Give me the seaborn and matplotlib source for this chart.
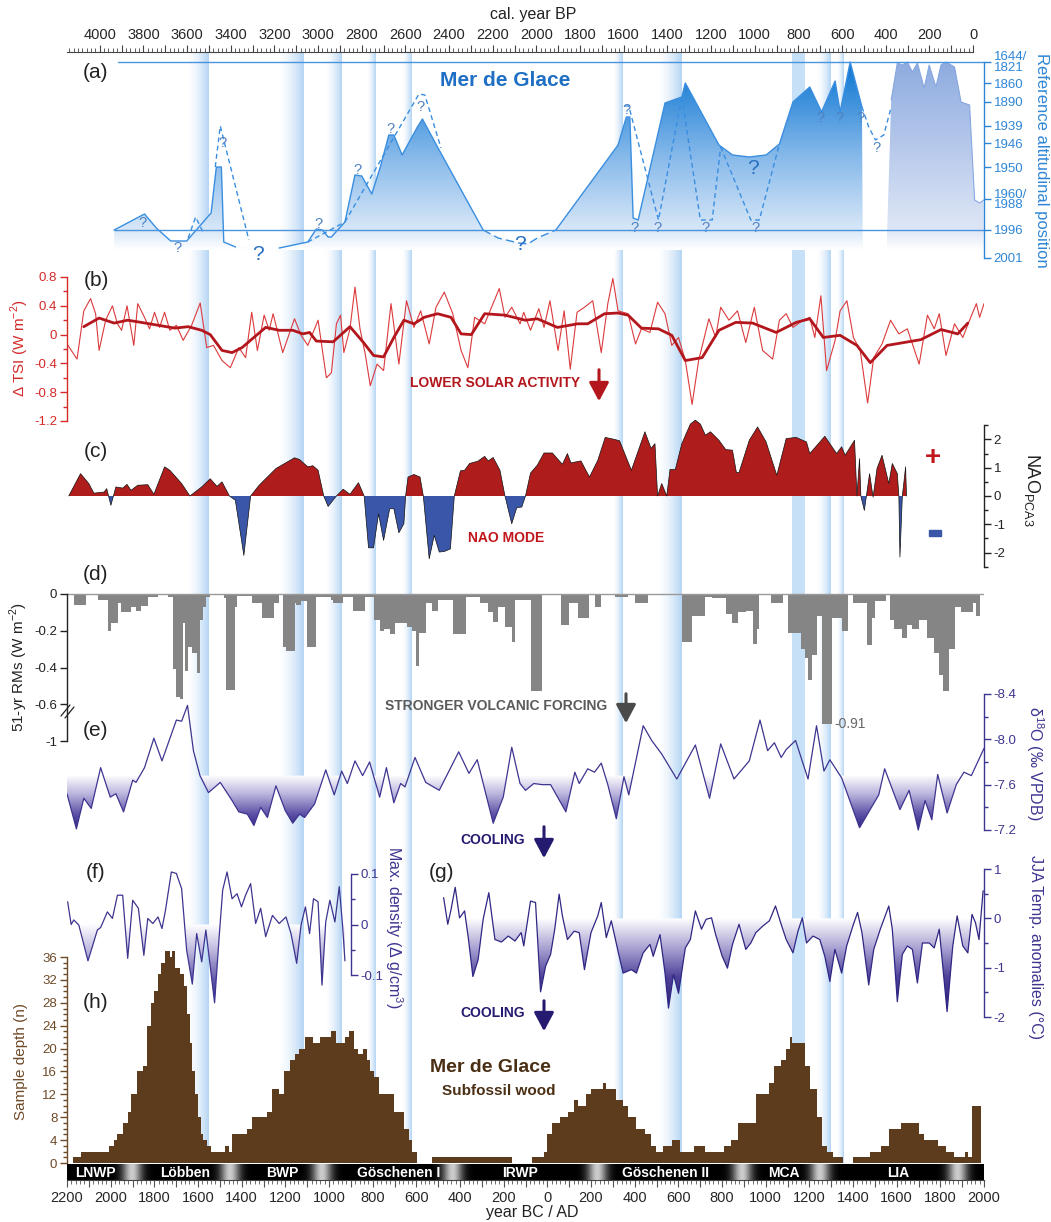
import numpy as np
import matplotlib
matplotlib.use("Agg")
import matplotlib.pyplot as plt
import seaborn as sns
from matplotlib.colors import LinearSegmentedColormap
from matplotlib.path import Path
from matplotlib.patches import PathPatch, Rectangle, FancyArrowPatch
from matplotlib.lines import Line2D

# ---------------- data ----------------
# cooling bands, year BC/AD
band_start = [-1650, -1235, -1020, -827, -667, 303, 500, 1121, 1236, 1327]
band_end = [-1550, -1116, -946, -786, -622, 348, 614, 1181, 1300, 1355]
band_fade = [True, True, True, True, True, True, True, False, True, True]

# (a) Mer de Glace glacier position, cal. BP vs relative altitude
a_seg1_bp = [3934, 3795, 3741, 3675, 3602, 3490, 3466, 3443, 3432, 3378]
a_seg1_alt = [28, 44, 30, 17, 17, 45, 91, 91, 16, 11]
a_seg2_bp = [3178, 3047, 3008, 2980, 2954, 2939, 2877, 2831, 2800, 2754, 2715, 2676,
             2653, 2615, 2545, 2522, 2453, 2244]
a_seg2_alt = [10, 16, 29, 28, 21, 21, 36, 83, 82, 64, 91, 123, 123, 103, 131, 139, 111, 28]
a_link_bp = [2244, 2175, 2082, 2039, 1996, 1911]
a_link_alt = [28, 20, 15, 14, 20, 28]
a_seg3_bp = [1911, 1626, 1588, 1572, 1557, 1534, 1411, 1334, 1318, 1164, 1102, 1025,
             948, 887, 825, 748, 694, 632, 609, 563, 509, 505]
a_seg3_alt = [28, 113, 141, 141, 40, 38, 155, 161, 175, 113, 103, 101,
              103, 114, 156, 171, 146, 177, 146, 196, 151, 8]
a_lia_bp = [394, 375, 347, 324, 301, 278, 255, 224, 201, 170, 147, 124, 85, 55, 16, -7, -30, -48]
a_lia_alt = [25, 158, 195, 193, 196, 186, 195, 170, 193, 171, 193, 196, 191, 156, 153, 58, 55, 58]
a_dash = [
    ([3595, 3561, 3525], [20, 41, 25]),
    ([3471, 3448, 3317], [91, 132, 18]),
    ([3047, 2877], [16, 36]),
    ([2877, 2538, 2511, 2437], [36, 164, 163, 110]),
    ([1596, 1577, 1441, 1334], [152, 152, 38, 161]),
    ([1334, 1249, 1195, 1156], [161, 38, 38, 111]),
    ([1156, 1018, 979, 887], [111, 38, 38, 114]),
    ([509, 478, 447, 409, 375], [151, 131, 118, 123, 151]),
]
q_bp = [3803, 3644, 3440, 3274, 2996, 2818, 2669, 2530, 2075, 1588, 1549, 1445, 1226, 998,
        1010, 697, 612, 517, 443]
q_alt = [35, 10, 115, 3, 34, 88, 129, 151, 13, 148, 30, 30, 30, 30, 90, 140, 140, 140, 110]
q_big = [0, 0, 0, 1, 0, 0, 0, 0, 1, 0, 0, 0, 0, 0, 1, 0, 0, 0, 0]
a_ticks = [196, 175, 156, 132, 115, 91, 59, 28, 0]
a_labels = ['1644/\n1821', '1860', '1890', '1939', '1946', '1950', '1960/\n1988', '1996', '2001']

# (b) TSI
tsi_year = [-2200, -2154, -2123, -2092, -2069, -2053, -2023, -1992, -1969, -1950,
            -1925, -1894, -1876, -1845, -1822, -1799, -1776, -1753, -1729, -1699,
            -1668, -1629, -1590, -1560, -1529, -1490, -1452, -1413, -1382, -1354,
            -1328, -1297, -1274, -1256, -1212, -1182, -1158, -1128, -1097, -1050,
            -1012, -989, -966, -947, -932, -904, -881, -858, -834, -811,
            -780, -750, -716, -680, -645, -611, -580, -541, -510, -472,
            -433, -395, -364, -333, -287, -253, -220, -194, -163, -125,
            -108, -77, -39, -15, 12, 49, 77, 105, 136, 170,
            208, 247, 277, 300, 324, 370, 404, 431, 470, 505,
            539, 570, 601, 632, 663, 693, 740, 771, 794, 832,
            871, 909, 948, 986, 1032, 1063, 1094, 1125, 1171, 1202,
            1225, 1253, 1279, 1318, 1341, 1372, 1402, 1433, 1467, 1495,
            1533, 1572, 1610, 1649, 1703, 1741, 1772, 1795, 1826, 1865,
            1903, 1934, 1965, 1980, 2000]
tsi_val = [-0.13, -0.34, 0.33, 0.50, 0.29, -0.22, 0.20, 0.40, 0.15, 0.06,
           0.40, -0.15, 0.43, 0.24, 0.08, 0.31, 0.10, 0.31, 0.06, 0.13,
           -0.08, 0.13, 0.44, -0.18, -0.15, -0.36, -0.46, -0.18, -0.32, 0.31,
           -0.22, 0.27, 0.06, 0.29, -0.25, 0.01, 0.22, -0.01, -0.15, 0.20,
           -0.60, -0.53, 0.15, 0.27, -0.25, 0.08, 0.66, 0.08, -0.27, -0.71,
           -0.41, -0.50, 0.43, -0.41, 0.47, 0.10, 0.33, -0.13, 0.38, 0.59,
           0.29, -0.22, -0.46, 0.24, 0.15, 0.40, 0.64, 0.24, 0.38, 0.15,
           0.31, 0.06, 0.36, 0.10, 0.47, -0.22, 0.33, -0.48, 0.31, 0.38,
           0.47, -0.25, 0.43, 0.78, 0.33, 0.29, -0.13, 0.08, 0.03, 0.45,
           0.29, -0.15, -0.04, -0.36, -0.97, -0.36, 0.22, -0.04, 0.38, 0.20,
           0.33, -0.11, 0.38, -0.22, -0.34, 0.20, 0.29, 0.10, 0.20, 0.24,
           -0.04, 0.54, -0.50, -0.08, 0.33, 0.47, -0.04, -0.22, -0.95, -0.32,
           -0.13, 0.20, 0.01, 0.08, -0.41, 0.27, 0.08, 0.29, -0.29, 0.15,
           -0.04, 0.20, 0.43, 0.24, 0.43]
tsi_smooth_year = [-2123, -2053, -1984, -1922, -1861, -1783, -1706, -1645, -1583, -1544,
                   -1490, -1444, -1398, -1352, -1290, -1228, -1166, -1120, -1089, -1058,
                   -981, -904, -842, -796, -750, -703, -657, -611, -564, -503,
                   -441, -395, -348, -287, -194, -101, -46, 46, 139, 185,
                   262, 324, 370, 431, 509, 570, 632, 709, 786, 863,
                   940, 1048, 1140, 1202, 1264, 1341, 1418, 1479, 1556, 1711,
                   1803, 1880, 1926]
tsi_smooth_val = [0.11, 0.23, 0.16, 0.20, 0.17, 0.13, 0.09, 0.11, 0.06, 0.00,
                  -0.22, -0.25, -0.18, -0.06, 0.10, 0.06, 0.06, 0.01, 0.03, -0.09,
                  -0.10, 0.11, -0.11, -0.29, -0.31, -0.04, 0.20, 0.15, 0.24, 0.29,
                  0.24, 0.01, 0.00, 0.29, 0.27, 0.20, 0.22, 0.10, 0.15, 0.15,
                  0.29, 0.30, 0.27, 0.09, 0.08, -0.01, -0.36, -0.32, 0.06, 0.17,
                  0.16, 0.03, 0.17, 0.22, -0.04, -0.01, -0.15, -0.39, -0.15, -0.07,
                  0.07, 0.01, 0.16]

# (c) NAO
nao_year = [-2192, -2138, -2100, -2077, -2030, -2018, -1999, -1976, -1945, -1925,
            -1907, -1876, -1830, -1802, -1753, -1729, -1675, -1637, -1583, -1544,
            -1513, -1490, -1456, -1429, -1390, -1359, -1320, -1243, -1158, -1135,
            -1097, -1074, -1050, -1024, -1004, -966, -935, -904, -865, -839,
            -819, -796, -773, -750, -722, -703, -680, -657, -649, -638,
            -611, -583, -568, -541, -518, -495, -472, -444, -426, -398,
            -379, -356, -318, -287, -271, -248, -217, -194, -163, -140,
            -117, -100, -77, -46, -15, 23, 69, 92, 108, 154,
            193, 231, 265, 308, 331, 385, 447, 475, 493, 505,
            524, 547, 562, 586, 616, 655, 678, 701, 724, 747,
            786, 817, 848, 866, 878, 925, 963, 1002, 1051, 1094,
            1140, 1187, 1202, 1271, 1325, 1348, 1364, 1407, 1418, 1430,
            1436, 1452, 1476, 1492, 1510, 1533, 1564, 1580, 1603, 1610,
            1615, 1626, 1641, 1645]
nao_val = [0.0, 0.79, 0.44, 0.10, 0.14, 0.26, -0.33, 0.32, 0.28, 0.41,
           0.20, 0.38, 0.40, 0.06, 1.03, 0.91, 0.44, 0.0, 0.32, 0.61,
           0.34, 0.50, 0.0, -0.15, -2.10, 0.0, 0.38, 0.97, 1.35, 1.29,
           1.03, 1.07, 0.91, 0.0, -0.37, 0.0, 0.24, 0.06, 0.47, 0.0,
           -1.83, -1.83, -0.63, -1.57, -0.45, -0.45, -1.30, -0.98, 0.0, 0.67,
           0.76, 0.67, 0.0, -2.22, -1.39, -1.98, -1.96, -1.87, 0.0, 0.89,
           0.91, 1.15, 1.23, 1.40, 1.24, 1.36, 0.91, 0.0, -0.98, -0.41,
           -0.39, 0.0, 0.81, 1.09, 1.52, 1.52, 1.12, 1.50, 1.17, 1.24,
           0.67, 1.26, 2.07, 2.00, 1.95, 0.91, 2.27, 1.68, 1.85, 0.0,
           0.44, 0.0, 0.94, 0.93, 1.85, 2.54, 2.68, 2.54, 2.15, 2.27,
           1.97, 1.64, 1.62, 0.83, 0.83, 1.97, 2.44, 1.91, 0.73, 2.03,
           2.07, 1.91, 1.50, 2.11, 1.50, 1.74, 1.44, 1.97, 0.0, 1.32,
           0.0, -0.51, 0.79, -0.04, 0.97, 1.44, 0.44, 1.15, 0.79, 0.0,
           -2.16, 0.0, 1.03, 0.0]

# (d) volcanic forcing, 51-yr running means (step starts)
volc_year = [-2166, -2115, -2058, -2012, -1999, -1965, -1953, -1907, -1884, -1861,
             -1830, -1783, -1737, -1714, -1699, -1683, -1668, -1660, -1645, -1626,
             -1606, -1591, -1575, -1564, -1544, -1533, -1482, -1471, -1432, -1420,
             -1351, -1305, -1251, -1231, -1212, -1197, -1158, -1151, -1128, -1101,
             -1058, -989, -981, -935, -888, -834, -796, -765, -750, -719,
             -696, -642, -618, -603, -588, -557, -526, -503, -433, -372,
             -310, -271, -248, -225, -194, -163, -148, -77, -23, 62,
             100, 139, 193, 219, 247, 308, 370, 401, 462, 509,
             616, 663, 724, 755, 817, 848, 871, 909, 940, 959,
             971, 1025, 1079, 1102, 1163, 1179, 1194, 1214, 1233, 1256,
             1302, 1348, 1379, 1402, 1464, 1487, 1502, 1549, 1569, 1587,
             1626, 1649, 1672, 1703, 1741, 1772, 1795, 1811, 1841, 1865,
             1895, 1949, 1965, 1980]
volc_val = [-0.06, -0.005, -0.03, -0.20, -0.16, -0.05, -0.10, -0.07, -0.09, -0.065,
            -0.015, -0.003, -0.015, -0.41, -0.56, -0.57, -0.16, -0.42, -0.29, -0.32,
            -0.43, -0.14, -0.07, -0.015, 0.0, -0.005, -0.02, -0.52, -0.07, -0.01,
            -0.05, -0.13, -0.05, -0.005, -0.29, -0.31, -0.05, -0.06, -0.04, -0.29,
            -0.015, -0.035, -0.05, -0.015, -0.09, -0.015, -0.14, -0.20, -0.19, -0.22,
            -0.16, -0.18, -0.20, -0.39, -0.21, -0.05, -0.09, -0.03, -0.22, -0.015,
            -0.05, -0.10, -0.15, -0.07, -0.18, -0.26, -0.03, -0.53, 0.0, -0.17,
            -0.05, -0.13, -0.005, -0.07, 0.0, -0.015, 0.0, -0.05, -0.005, 0.0,
            -0.26, -0.12, -0.015, -0.02, -0.11, -0.16, -0.10, -0.09, -0.27, -0.19,
            -0.005, -0.05, -0.005, -0.21, -0.30, -0.35, -0.47, -0.33, -0.12, -0.91,
            -0.13, -0.20, -0.005, -0.05, -0.28, -0.13, -0.04, -0.005, -0.14, -0.19,
            -0.24, -0.17, -0.19, -0.14, -0.24, -0.32, -0.44, -0.53, -0.30, -0.07,
            -0.10, -0.05, -0.12, 0.0]

# (e) speleothem d18O
d18o_year = [-2200, -2157, -2123, -2089, -2046, -2002, -1976, -1941, -1899, -1884,
             -1845, -1802, -1765, -1699, -1675, -1648, -1621, -1591, -1552, -1498,
             -1444, -1413, -1374, -1344, -1313, -1282, -1243, -1200, -1166, -1135,
             -1112, -1066, -1015, -976, -942, -916, -881, -846, -814, -768,
             -737, -703, -672, -652, -606, -557, -495, -406, -359, -321,
             -248, -202, -163, -125, -100, -62, -23, 15, 85, 126,
             146, 185, 216, 247, 277, 316, 351, 373, 439, 478,
             524, 593, 678, 743, 794, 855, 925, 974, 1009, 1040,
             1071, 1094, 1137, 1194, 1233, 1267, 1294, 1348, 1430, 1518,
             1545, 1615, 1657, 1699, 1730, 1761, 1788, 1831, 1873, 1908,
             1942, 2000]
d18o_val = [-7.52, -7.21, -7.48, -7.39, -7.75, -7.49, -7.52, -7.36, -7.64, -7.62,
            -7.75, -8.01, -7.81, -8.17, -8.16, -8.30, -7.90, -7.68, -7.53, -7.62,
            -7.46, -7.36, -7.34, -7.24, -7.40, -7.31, -7.59, -7.37, -7.26, -7.34,
            -7.31, -7.43, -7.73, -7.51, -7.72, -7.61, -7.81, -7.68, -7.80, -7.49,
            -7.75, -7.44, -7.61, -7.58, -7.84, -7.62, -7.55, -7.89, -7.70, -7.82,
            -7.26, -7.49, -7.93, -7.61, -7.55, -7.61, -7.60, -7.60, -7.36, -7.71,
            -7.61, -7.74, -7.71, -7.79, -7.60, -7.30, -7.67, -7.51, -8.12, -7.99,
            -7.87, -7.65, -7.95, -7.48, -7.96, -7.65, -7.81, -8.17, -7.90, -7.97,
            -7.84, -7.91, -7.99, -7.65, -8.12, -7.72, -7.82, -7.66, -7.22, -7.51,
            -7.74, -7.38, -7.55, -7.20, -7.46, -7.29, -7.69, -7.35, -7.60, -7.71,
            -7.68, -7.92]
d18o_thr = -7.68

# (f) maximum density
f_year = [-2197, -2181, -2169, -2146, -2131, -2104, -2084, -2061, -2046, -2015,
          -1992, -1969, -1945, -1922, -1899, -1873, -1848, -1830, -1807, -1783,
          -1765, -1749, -1722, -1699, -1675, -1652, -1626, -1606, -1583, -1564,
          -1524, -1503, -1487, -1467, -1444, -1421, -1401, -1382, -1359, -1336,
          -1313, -1290, -1259, -1228, -1197, -1174, -1148, -1128, -1108, -1089,
          -1071, -1050, -1032, -1015, -996, -973, -953, -938, -927]
f_val = [0.045, 0.0, 0.009, -0.001, -0.026, -0.072, -0.044, -0.011, -0.006, 0.025,
         0.012, 0.058, 0.058, -0.067, 0.048, 0.032, -0.061, 0.012, 0.002, 0.015,
         -0.008, 0.028, 0.104, 0.101, 0.071, -0.051, -0.118, -0.018, -0.074, -0.011,
         -0.155, -0.024, 0.068, 0.104, 0.051, 0.061, 0.035, 0.058, 0.081, 0.002,
         0.032, -0.024, 0.018, 0.002, 0.015, -0.018, -0.077, -0.001, 0.035, -0.018,
         0.051, 0.045, -0.12, 0.005, 0.048, 0.005, 0.075, -0.001, -0.072]

# (g) JJA temperature anomalies
g_year = [-475, -456, -441, -422, -402, -379, -361, -341, -317, -294,
          -268, -240, -210, -179, -148, -120, -108, -77, -54, -31,
          -8, 15, 34, 54, 69, 92, 123, 146, 170, 200,
          231, 247, 270, 293, 324, 347, 385, 408, 439, 470,
          485, 516, 539, 555, 578, 601, 632, 655, 678, 706,
          727, 752, 771, 801, 825, 848, 878, 909, 932, 955,
          986, 1017, 1045, 1071, 1094, 1125, 1148, 1168, 1187, 1217,
          1248, 1271, 1294, 1317, 1348, 1371, 1402, 1421, 1441, 1472,
          1495, 1525, 1564, 1580, 1603, 1626, 1649, 1672, 1695, 1718,
          1749, 1772, 1795, 1831, 1857, 1877, 1903, 1926, 1945, 1961,
          1977, 1996]
g_val = [0.42, -0.12, 0.18, 0.63, 0.01, 0.15, -0.43, -1.18, -0.84, -0.02,
         0.52, -0.43, -0.48, -0.36, -0.46, -0.29, -0.56, 0.35, 0.32, -1.49,
         -0.97, -0.73, -0.22, 0.49, 0.05, -0.43, -0.26, -0.29, -1.04, -0.29,
         0.05, 0.32, -0.39, -0.05, -0.67, -1.11, -1.04, -1.11, -0.70, -0.53,
         -0.77, -0.33, -1.11, -1.82, -1.14, -1.52, -0.60, -0.43, 0.15, -0.22,
         -0.02, 0.01, -0.33, -0.77, -1.01, -0.53, -0.12, -0.63, -0.50, -0.29,
         -0.16, -0.05, 0.25, -0.12, -0.43, -0.70, -0.26, 0.01, -0.50, -0.36,
         -0.43, -0.77, -1.28, -0.63, -1.11, -0.56, -0.12, 0.12, -0.29, -1.35,
         -0.63, -0.22, 0.25, -0.22, -1.69, -0.73, -0.56, -0.63, -1.31, -0.50,
         -0.50, -0.60, -0.22, -1.89, -0.56, 0.05, -0.56, -0.70, 0.08, -0.09,
         -0.43, 0.56]

# (h) subfossil wood sample depth (step starts)
h_year = [-2172, -2138, -2007, -1984, -1969, -1945, -1922, -1907, -1879, -1853,
          -1834, -1817, -1803, -1783, -1768, -1753, -1730, -1720, -1706, -1683,
          -1663, -1652, -1637, -1629, -1614, -1601, -1587, -1575, -1560, -1540,
          -1475, -1459, -1444, -1374, -1351, -1282, -1262, -1228, -1205, -1179,
          -1158, -1138, -1112, -1074, -1043, -989, -966, -927, -907, -884,
          -865, -842, -827, -811, -796, -770, -703, -657, -634, -618,
          -595, -530, -160, -69, -15, 0, 23, 59, 96, 123,
          139, 177, 200, 254, 270, 316, 347, 370, 408, 447,
          475, 496, 532, 570, 609, 670, 724, 809, 840, 871,
          955, 1017, 1040, 1071, 1094, 1110, 1119, 1179, 1202, 1233,
          1256, 1279, 1310, 1356, 1402, 1479, 1526, 1564, 1618, 1703,
          1726, 1788, 1826, 1862, 1911, 1926, 1945, 1985]
h_val = [1, 2, 3, 4, 5, 7, 9, 12, 16, 17,
         24, 28, 30, 33, 35, 37, 36, 37, 34, 33,
         31, 26, 21, 16, 12, 8, 5, 4, 3, 2,
         3, 2, 5, 6, 8, 9, 13, 12, 16, 18,
         19, 20, 22, 21, 22, 23, 21, 22, 23, 20,
         19, 20, 18, 16, 15, 12, 9, 6, 4, 2,
         0, 1, 0, 1, 2, 5, 7, 8, 9, 11,
         10, 12, 13, 14, 13, 11, 10, 8, 6, 5,
         3, 2, 3, 4, 2, 3, 2, 3, 4, 7,
         12, 14, 17, 18, 20, 22, 21, 17, 13, 8,
         3, 2, 1, 0, 1, 2, 3, 6, 7, 5,
         4, 3, 2, 1, 2, 1, 10, 0]

# climatic periods
period_edges = [-1903, -1454, -1033, -434, 229, 893, 1250, 1881]
period_names = ['LNWP', 'Löbben', 'BWP', 'Göschenen I', 'IRWP', 'Göschenen II', 'MCA', 'LIA']
period_label_year = [-2070, -1660, -1215, -680, -125, 540, 1085, 1605]

# ---------------- style ----------------
sns.set_style("ticks")
plt.rcParams['font.family'] = ['Liberation Sans', 'DejaVu Sans']
plt.rcParams['mathtext.fontset'] = 'custom'
plt.rcParams['mathtext.rm'] = 'Liberation Sans'
plt.rcParams['axes.unicode_minus'] = False

RED = '#d42a2a'
DRED = '#b3161c'
NAO_RED = '#ae1c1c'
NAO_BLUE = '#3a56a8'
INDIGO = '#3d3590'
BROWN = '#5c3c1d'
BROWN_T = '#6e4a28'
GLAC = '#2f86d6'

W, H = 1051, 1222
XL, XR = 67, 984
fig = plt.figure(figsize=(W / 100, H / 100), dpi=100)


def fx(x):
    return x / W


def fy(y):
    return 1 - y / H


def add_ax(top, bottom, left=XL, right=XR):
    ax = fig.add_axes([fx(left), fy(bottom), (right - left) / W, (bottom - top) / H])
    ax.patch.set_alpha(0)
    for s in ax.spines.values():
        s.set_visible(False)
    ax.set_xticks([])
    ax.set_yticks([])
    ax.set_xlim(-2200, 2000)
    return ax


def map_y(ax, top, bottom, va, ya, vb, yb):
    # pin value va at pixel ya and vb at pixel yb
    k = (vb - va) / (yb - ya)
    ax.set_ylim(va + (bottom - ya) * k, va + (top - ya) * k)
    ax.set_xlim(-2200, 2000)


def y_axis(ax, side, color, bounds, major, labels, minor=None, size=9.5):
    sp = ax.spines[side]
    sp.set_visible(True)
    sp.set_color(color)
    sp.set_linewidth(1.0)
    sp.set_bounds(*bounds)
    ax.set_yticks(major)
    ax.set_yticklabels(labels)
    if minor is not None:
        ax.set_yticks(minor, minor=True)
    left = side == 'left'
    ax.tick_params(axis='y', which='both', left=left, right=not left,
                   labelleft=left, labelright=not left, direction='out', color=color)
    ax.tick_params(axis='y', which='major', length=5, width=1, labelcolor=color,
                   labelsize=size, pad=2)
    ax.tick_params(axis='y', which='minor', length=3, width=1)


def grad_fill(ax, x, y, thr, deep, colors, where=None, z=2):
    x = np.asarray(x, float)
    y = np.asarray(y, float)
    coll = ax.fill_between(x, y, thr, where=where, interpolate=True,
                           facecolor='none', edgecolor='none')
    clip = PathPatch(Path.make_compound_path(*coll.get_paths()), transform=ax.transData,
                     facecolor='none', edgecolor='none')
    ax.add_patch(clip)
    cmap = LinearSegmentedColormap.from_list('g', colors)
    im = ax.imshow(np.linspace(0, 1, 256).reshape(-1, 1), cmap=cmap, vmin=0, vmax=1,
                   aspect='auto', origin='lower', interpolation='bilinear',
                   extent=(x.min(), x.max(), thr, deep), zorder=z)
    im.set_clip_path(clip)


def line(ax, x, y, **kw):
    sns.lineplot(x=list(x), y=list(y), ax=ax, sort=False, estimator=None, **kw)


def ft(x, y, s, **kw):
    fig.text(fx(x), fy(y), s, **kw)


def arrow(x, y0, y1, color):
    fig.patches.append(FancyArrowPatch((fx(x), fy(y0)), (fx(x), fy(y1)),
                                       transform=fig.transFigure,
                                       arrowstyle='-|>,head_length=0.75,head_width=0.4',
                                       mutation_scale=15, color=color, lw=2.2))


# ---------------- cooling bands (background) ----------------
bg = add_ax(53, 1163)
band_cmap = LinearSegmentedColormap.from_list('band', ['#ffffff', '#b4d5f4'])
ramp = np.linspace(0, 1, 128) ** 1.6
for s, e, fade in zip(band_start, band_end, band_fade):
    if fade:
        bg.imshow(ramp[None, :], cmap=band_cmap, vmin=0, vmax=1, aspect='auto',
                  extent=(s, e, 0, 1), zorder=0)
    else:
        bg.axvspan(s, e, color='#c6e0f7', lw=0)
bg.set_xlim(-2200, 2000)
bg.set_ylim(0, 1)

# ---------------- (a) glacier ----------------
ax_a = add_ax(55, 262)
out_bp = a_seg1_bp + a_seg2_bp + a_link_bp + a_seg3_bp
out_alt = a_seg1_alt + a_seg2_alt + a_link_alt + a_seg3_alt
grad_fill(ax_a, 1950 - np.array(out_bp), out_alt, 8, 196,
          [(0, '#ffffff'), (0.1, '#d9e8f8'), (0.5, '#86b9ea'), (1, '#0b75d2')])
grad_fill(ax_a, 1950 - np.array(a_lia_bp), a_lia_alt, 8, 196,
          [(0, '#ffffff'), (0.1, '#dfe7f6'), (1, '#8eabe0')])
for bp, alt in [(a_seg1_bp, a_seg1_alt), (a_seg2_bp, a_seg2_alt), (a_seg3_bp[:-1], a_seg3_alt[:-1])]:
    line(ax_a, 1950 - np.array(bp), alt, color='#3a8ee0', linewidth=1.0)
line(ax_a, 1950 - np.array(a_link_bp), a_link_alt, color='#3a8ee0', linewidth=1.0,
     linestyle=(0, (6, 3)))
line(ax_a, 1950 - np.array(a_lia_bp[1:]), a_lia_alt[1:], color='#86a8e0', linewidth=0.8)
for bp, alt in a_dash:
    line(ax_a, 1950 - np.array(bp), alt, color='#3a8ee0', linewidth=1.0,
         linestyle=(0, (3.5, 2.5)))
ax_a.plot([1950 - 3915, 2000], [196, 196], color='#4a94dd', lw=1.0)
ax_a.plot([1950 - 3934, 2000], [28, 28], color='#4a94dd', lw=1.0)
for bp, alt, big in zip(q_bp, q_alt, q_big):
    ax_a.text(1950 - bp, alt, '?', ha='center', va='center',
              fontsize=15 if big else 10.5, color='#2a70c2' if big else '#4f80c0')
map_y(ax_a, 55, 262, 0, 258, 196, 62)
y_axis(ax_a, 'right', GLAC, (0, 196), a_ticks, a_labels, size=9.5)
for t in ax_a.get_yticklabels():
    t.set_linespacing(0.85)

# top ruler, cal. year BP
ax_top = add_ax(52, 60)
ax_top.spines['top'].set_visible(True)
ax_top.spines['top'].set_color('#444444')
ax_top.spines['top'].set_bounds(-2200, 1950)
bp_major = np.arange(0, 4001, 100)
ax_top.set_xticks(1950 - bp_major)
ax_top.set_xticklabels([str(b) if b % 200 == 0 else '' for b in bp_major])
ax_top.set_xticks(1950 - np.arange(0, 4151, 20), minor=True)
ax_top.tick_params(axis='x', which='both', top=True, bottom=False, labeltop=True,
                   labelbottom=False, direction='out', color='#444444')
ax_top.tick_params(axis='x', which='major', length=5, width=0.8, labelsize=10.5, pad=2)
ax_top.tick_params(axis='x', which='minor', length=3, width=0.6)
ax_top.set_xlim(-2200, 2000)

# ---------------- (b) TSI ----------------
ax_b = add_ax(270, 430)
line(ax_b, tsi_year, tsi_val, color='#dc3a3c', linewidth=0.8)
line(ax_b, tsi_smooth_year, tsi_smooth_val, color=DRED, linewidth=2.0)
map_y(ax_b, 270, 430, 0.8, 277, -1.2, 421)
y_axis(ax_b, 'left', RED, (-1.2, 0.8), [0.8, 0.4, 0, -0.4, -0.8, -1.2],
       ['0.8', '0.4', '0', '-0.4', '-0.8', '-1.2'], minor=[0.6, 0.2, -0.2, -0.6, -1.0])

# ---------------- (c) NAO ----------------
ax_c = add_ax(410, 580)
nx = np.array(nao_year, float)
ny = np.array(nao_val, float)
ax_c.fill_between(nx, ny, 0, where=ny >= 0, interpolate=True, color=NAO_RED, lw=0)
ax_c.fill_between(nx, ny, 0, where=ny <= 0, interpolate=True, color=NAO_BLUE, lw=0)
line(ax_c, nao_year, nao_val, color='#111111', linewidth=0.5)
map_y(ax_c, 410, 580, 0, 496, 2, 439.4)
y_axis(ax_c, 'right', '#222222', (-2.5, 2.5), [2, 1, 0, -1, -2], ['2', '1', '0', '-1', '-2'],
       minor=[2.5, 1.5, 0.5, -0.5, -1.5, -2.5])

# ---------------- (d) volcanic ----------------
ax_d = add_ax(585, 750)
vv = np.array(volc_val, float)
vdisp = np.where(vv < -0.6, -0.6 + (vv + 0.6) * 0.35, vv)
ax_d.axhline(0, color='#9a9a9a', lw=1.0)
ax_d.fill_between(volc_year, vdisp, 0, step='post', color='#858585', lw=0)
map_y(ax_d, 585, 750, 0, 594, -0.8, 741)
y_axis(ax_d, 'left', '#222222', (-0.8, 0), [0, -0.2, -0.4, -0.6, -0.8],
       ['0', '-0.2', '-0.4', '-0.6', '-1'])

# ---------------- (e) d18O ----------------
ax_e = add_ax(680, 840)
ey = np.array(d18o_val, float)
grad_fill(ax_e, d18o_year, ey, d18o_thr, -7.2,
          [(0, '#ffffff'), (0.35, '#b9b3dc'), (0.7, '#5f54a8'), (1, '#2a1e7c')],
          where=ey > d18o_thr)
line(ax_e, d18o_year, d18o_val, color=INDIGO, linewidth=0.9)
map_y(ax_e, 680, 840, -8.4, 694, -7.2, 830)
y_axis(ax_e, 'right', INDIGO, (-8.4, -7.2), [-8.4, -8.0, -7.6, -7.2],
       ['-8.4', '-8.0', '-7.6', '-7.2'], minor=[-8.2, -7.8, -7.4])

# ---------------- (f) max density ----------------
ax_f = add_ax(850, 1010)
fyv = np.array(f_val, float)
grad_fill(ax_f, f_year, fyv, 0, -0.16,
          [(0, '#ffffff'), (0.35, '#b9b3dc'), (0.7, '#5f54a8'), (1, '#2a1e7c')],
          where=fyv < 0)
line(ax_f, f_year, f_val, color=INDIGO, linewidth=0.9)
map_y(ax_f, 850, 1010, 0.1, 874, -0.1, 975)
y_axis(ax_f, 'right', INDIGO, (-0.1, 0.1), [0.1, 0, -0.1], ['0.1', '0', '-0.1'],
       minor=[0.05, -0.05])
ax_f.spines['right'].set_position(('data', -901))

# ---------------- (g) JJA temperature ----------------
ax_g = add_ax(850, 1035)
gyv = np.array(g_val, float)
grad_fill(ax_g, g_year, gyv, 0, -2.0,
          [(0, '#ffffff'), (0.3, '#aaa3d3'), (0.6, '#4d4199'), (1, '#241870')],
          where=gyv < 0)
line(ax_g, g_year, g_val, color='#2f2783', linewidth=0.9)
map_y(ax_g, 850, 1035, 1, 869, -2, 1017)
y_axis(ax_g, 'right', INDIGO, (-2, 1), [1, 0, -1, -2], ['1', '0', '-1', '-2'],
       minor=[0.5, -0.5, -1.5])

# ---------------- (h) sample depth ----------------
ax_h = add_ax(930, 1164)
ax_h.fill_between(h_year, h_val, 0, step='post', color=BROWN, lw=0)
map_y(ax_h, 930, 1164, 0, 1163, 36, 957)
y_axis(ax_h, 'left', BROWN_T, (0, 36), list(range(0, 37, 4)),
       [str(v) for v in range(0, 37, 4)], minor=list(range(0, 37, 1)))

# ---------------- period bar and bottom ruler ----------------
ax_bar = add_ax(1164, 1180)
xs = np.linspace(-2200, 2000, 1400)
light = np.zeros_like(xs)
for b in period_edges:
    light = np.maximum(light, 0.8 * np.exp(-((xs - b) / 45.0) ** 2))
ax_bar.imshow(light[None, :], cmap='gray', vmin=0, vmax=1, aspect='auto',
              extent=(-2200, 2000, 0, 1), interpolation='bilinear')
for name, yr in zip(period_names, period_label_year):
    ax_bar.text(yr, 0.45, name, color='white', fontweight='bold', fontsize=10,
                ha='center', va='center')
ax_bar.set_xlim(-2200, 2000)
ax_bar.set_ylim(0, 1)

ax_bot = add_ax(1172, 1180)
ax_bot.spines['bottom'].set_visible(True)
ax_bot.spines['bottom'].set_color('#444444')
yr_major = np.arange(-2200, 2001, 100)
ax_bot.set_xticks(yr_major)
ax_bot.set_xticklabels([str(abs(v)) if v % 200 == 0 else '' for v in yr_major])
ax_bot.set_xticks(np.arange(-2200, 2001, 20), minor=True)
ax_bot.tick_params(axis='x', which='both', bottom=True, top=False, labelbottom=True,
                   direction='out', color='#555555')
ax_bot.tick_params(axis='x', which='major', length=5, width=0.8, labelsize=10.5, pad=3)
ax_bot.tick_params(axis='x', which='minor', length=3, width=0.6)
ax_bot.set_xlim(-2200, 2000)

# ---------------- texts ----------------
ft(533, 15, 'cal. year BP', ha='center', va='center', fontsize=11.5, color='#222222')
ft(532, 1213, 'year BC / AD', ha='center', va='center', fontsize=11.5, color='#222222')
for lab, x, y in [('(a)', 96, 72), ('(b)', 96, 281), ('(c)', 96, 452), ('(d)', 96, 575),
                  ('(e)', 96, 731), ('(f)', 96, 873), ('(g)', 441, 873), ('(h)', 96, 1002)]:
    ft(x, y, lab, ha='center', va='center', fontsize=15, color='#222222')

ft(505, 80, 'Mer de Glace', ha='center', va='center', fontsize=15, fontweight='bold',
   color='#1f6fc4')
ft(1042, 160, 'Reference altitudinal position', ha='center', va='center', fontsize=12,
   rotation=270, color=GLAC)
ft(20, 348, 'Δ TSI (W m$^{-2}$)', ha='center', va='center', fontsize=11, rotation=90,
   color=RED)
ft(495, 383, 'LOWER SOLAR ACTIVITY', ha='center', va='center', fontsize=10,
   fontweight='bold', color='#b3161c')
arrow(599, 367, 404, '#b3161c')
ft(506, 538, 'NAO MODE', ha='center', va='center', fontsize=10, fontweight='bold',
   color='#c0161c')
ft(933, 458, '+', ha='center', va='center', fontsize=20, fontweight='bold', color='#c0161c')
fig.patches.append(Rectangle((fx(929), fy(536)), 12 / W, 6 / H, transform=fig.transFigure,
                             color=NAO_BLUE))
ft(1032, 490, r'NAO$_{\mathregular{PCA3}}$', ha='center', va='center', fontsize=13,
   rotation=270, color='#222222')
ft(19, 667, '51-yr RMs (W m$^{-2}$)', ha='center', va='center', fontsize=11, rotation=90,
   color='#222222')
fig.add_artist(Line2D([fx(61), fx(70)], [fy(716), fy(705)], color='#222222', lw=0.9))
fig.add_artist(Line2D([fx(65), fx(74)], [fy(718), fy(707)], color='#222222', lw=0.9))
ft(496, 706, 'STRONGER VOLCANIC FORCING', ha='center', va='center', fontsize=10,
   fontweight='bold', color='#5a5a5a')
arrow(626, 691, 726, '#4a4a4a')
ft(834, 724, '-0.91', ha='left', va='center', fontsize=10, color='#666666')
ft(1035, 763, 'δ$^{18}$O (‰ VPDB)', ha='center', va='center', fontsize=11.5, rotation=270,
   color=INDIGO)
ft(493, 840, 'COOLING', ha='center', va='center', fontsize=10, fontweight='bold',
   color='#241a70')
arrow(544, 824, 861, '#241a70')
ft(493, 1013, 'COOLING', ha='center', va='center', fontsize=10, fontweight='bold',
   color='#241a70')
arrow(544, 998, 1034, '#241a70')
ft(394, 927, 'Max. density (Δ g/cm$^3$)', ha='center', va='center', fontsize=11.5,
   rotation=270, color=INDIGO)
ft(1035, 947, 'JJA Temp. anomalies (°C)', ha='center', va='center', fontsize=11.5,
   rotation=270, color=INDIGO)
ft(21, 1062, 'Sample depth (n)', ha='center', va='center', fontsize=11, rotation=90,
   color=BROWN_T)
ft(490, 1068, 'Mer de Glace', ha='center', va='center', fontsize=14, fontweight='bold',
   color='#4a2f14')
ft(499, 1091, 'Subfossil wood', ha='center', va='center', fontsize=11, fontweight='bold',
   color='#4a2f14')

fig.savefig('out.png', dpi=100)
